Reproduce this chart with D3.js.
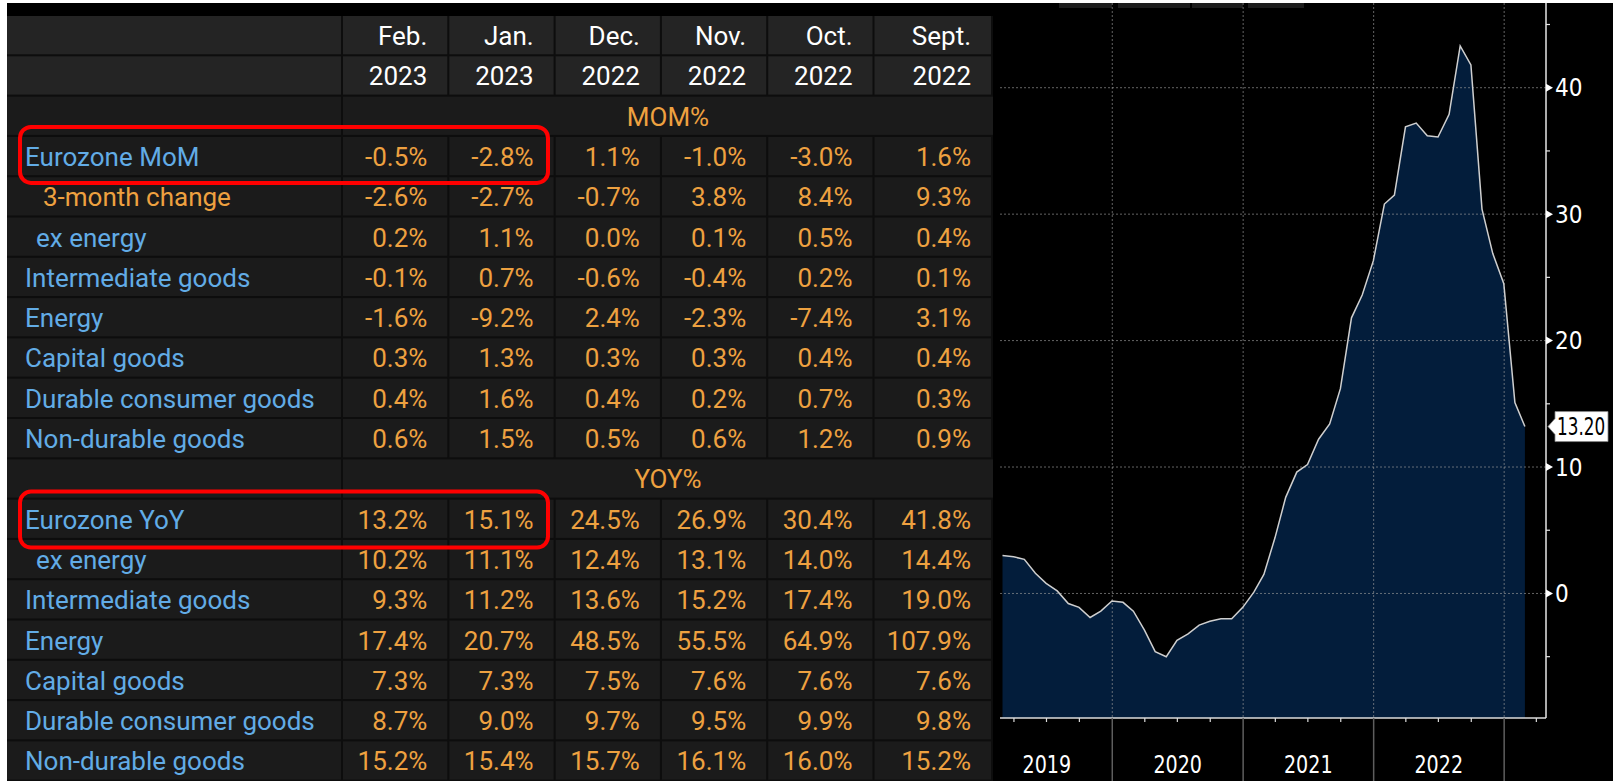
<!DOCTYPE html>
<html lang="en">
<head>
<meta charset="UTF-8">
<title>Eurozone PPI</title>
<script src="https://cdn.jsdelivr.net/npm/d3@7"></script>
<style>
    body { margin: 0; background: #fff; }
    svg { display: block; }
    .tbl text { font-family: Roboto, "Noto Sans", sans-serif; font-size: 26px; }
    .chart text { font-family: "Liberation Sans Narrow", "DejaVu Sans Condensed", sans-serif; font-size: 24px; fill: #fff; }
</style>
</head>
<body>
<div id="container"></div>
<script>
// table columns
const months = ["Feb.", "Jan.", "Dec.", "Nov.", "Oct.", "Sept."];
const years = ["2023", "2023", "2022", "2022", "2022", "2022"];

// month-on-month block
const momLabels = ["Eurozone MoM", "3-month change", "ex energy", "Intermediate goods",
    "Energy", "Capital goods", "Durable consumer goods", "Non-durable goods"];
const momValues = [
    [-0.5, -2.8, 1.1, -1.0, -3.0, 1.6],
    [-2.6, -2.7, -0.7, 3.8, 8.4, 9.3],
    [0.2, 1.1, 0.0, 0.1, 0.5, 0.4],
    [-0.1, 0.7, -0.6, -0.4, 0.2, 0.1],
    [-1.6, -9.2, 2.4, -2.3, -7.4, 3.1],
    [0.3, 1.3, 0.3, 0.3, 0.4, 0.4],
    [0.4, 1.6, 0.4, 0.2, 0.7, 0.3],
    [0.6, 1.5, 0.5, 0.6, 1.2, 0.9]
];

// year-on-year block
const yoyLabels = ["Eurozone YoY", "ex energy", "Intermediate goods", "Energy",
    "Capital goods", "Durable consumer goods", "Non-durable goods"];
const yoyValues = [
    [13.2, 15.1, 24.5, 26.9, 30.4, 41.8],
    [10.2, 11.1, 12.4, 13.1, 14.0, 14.4],
    [9.3, 11.2, 13.6, 15.2, 17.4, 19.0],
    [17.4, 20.7, 48.5, 55.5, 64.9, 107.9],
    [7.3, 7.3, 7.5, 7.6, 7.6, 7.6],
    [8.7, 9.0, 9.7, 9.5, 9.9, 9.8],
    [15.2, 15.4, 15.7, 16.1, 16.0, 15.2]
];

// chart: Eurozone PPI YoY %, month ends Feb 2019 .. Feb 2023
const firstMonth = new Date(2019, 1, 1);
const ppiYoY = [
    3.0, 2.9, 2.7, 1.6, 0.8, 0.2, -0.8, -1.1, -1.9, -1.4, -0.6,
    -0.7, -1.4, -2.9, -4.6, -5.0, -3.7, -3.2, -2.5, -2.2, -2.0, -2.0, -1.1,
    0.1, 1.5, 4.4, 7.6, 9.6, 10.2, 12.2, 13.4, 16.2, 21.8, 23.6, 26.3,
    30.8, 31.5, 36.9, 37.2, 36.2, 36.1, 37.9, 43.3, 41.8, 30.4, 26.9, 24.5,
    15.1, 13.2
];
const yMajor = [0, 10, 20, 30, 40];
const yMinor = [-5, 5, 15, 25, 35, 45];
const yearLabels = [2019, 2020, 2021, 2022];

const W = 1613, H = 781;
const blue = "#62ace6", orange = "#eea140";

const svg = d3.select("#container").append("svg")
    .attr("width", W).attr("height", H);

// ---------- table ----------
const tbl = svg.append("g").attr("class", "tbl");
const tableLeft = 7, tableRight = 993, labelEnd = 343;

tbl.append("rect").attr("x", tableLeft).attr("y", 3)
    .attr("width", tableRight - tableLeft).attr("height", H - 3).attr("fill", "#000");
tbl.append("rect").attr("x", tableLeft).attr("y", 16)
    .attr("width", tableRight - tableLeft).attr("height", H - 16).attr("fill", "#0d0d0d");

const rows = [
    {type: "head", cells: months},
    {type: "head", cells: years},
    {type: "section", text: "MOM%"},
    ...momLabels.map((l, i) => ({type: "data", label: l, values: momValues[i]})),
    {type: "section", text: "YOY%"},
    ...yoyLabels.map((l, i) => ({type: "data", label: l, values: yoyValues[i]}))
];

const rowY = d3.scaleBand().domain(d3.range(rows.length)).range([16, 16 + rows.length * 40.3]);
const colX = d3.scaleBand().domain(d3.range(months.length)).range([labelEnd, labelEnd + months.length * 106.3]);
const colRight = i => i === months.length - 1 ? tableRight : colX(i) + colX.bandwidth();

const labelStyle = {
    "3-month change": {x: 43, color: orange},
    "ex energy": {x: 36, color: blue}
};

const rowG = tbl.selectAll("g.row").data(rows).enter().append("g")
    .attr("class", "row")
    .attr("transform", (d, i) => `translate(0,${rowY(i)})`);

rowG.each(function(d) {
    const g = d3.select(this);
    const h = rowY.bandwidth() - 2;
    const bg = d.type === "head" ? "#242424" : "#1b1b1b";
    g.append("rect").attr("x", tableLeft).attr("width", labelEnd - 2 - tableLeft)
        .attr("height", h).attr("fill", bg);
    if (d.type === "section") {
        g.append("rect").attr("x", labelEnd).attr("width", tableRight - labelEnd)
            .attr("height", h).attr("fill", bg);
        g.append("text").attr("x", (labelEnd + tableRight) / 2).attr("y", 29)
            .attr("text-anchor", "middle").attr("fill", orange).text(d.text);
        return;
    }
    g.selectAll("rect.cell").data(months).enter().append("rect")
        .attr("class", "cell")
        .attr("x", (m, i) => colX(i))
        .attr("width", (m, i) => colRight(i) - colX(i) - 2)
        .attr("height", h).attr("fill", bg);
    if (d.type === "head") {
        g.selectAll("text.v").data(d.cells).enter().append("text")
            .attr("class", "v")
            .attr("x", (c, i) => colRight(i) - 22).attr("y", 29)
            .attr("text-anchor", "end").attr("fill", "#fff").text(c => c);
    } else {
        const st = labelStyle[d.label] || {x: 25, color: blue};
        g.append("text").attr("x", st.x).attr("y", 29)
            .attr("fill", st.color).text(d.label);
        g.selectAll("text.v").data(d.values).enter().append("text")
            .attr("class", "v")
            .attr("x", (c, i) => colRight(i) - 22).attr("y", 29)
            .attr("text-anchor", "end").attr("fill", orange)
            .text(v => v.toFixed(1) + "%");
    }
});

// red highlight boxes
const boxRows = [momLabels.indexOf("Eurozone MoM") + 3, yoyLabels.indexOf("Eurozone YoY") + 12];
tbl.selectAll("rect.hl").data(boxRows).enter().append("rect")
    .attr("class", "hl")
    .attr("x", 20).attr("width", 528)
    .attr("y", (r, i) => rowY(r) - (i === 0 ? 10 : 8))
    .attr("height", 56)
    .attr("rx", 11)
    .attr("fill", "none").attr("stroke", "#ff0000").attr("stroke-width", 4);

// ---------- chart ----------
const ch = svg.append("g").attr("class", "chart");
ch.append("rect").attr("x", tableRight).attr("y", 3)
    .attr("width", W - tableRight).attr("height", H - 3).attr("fill", "#000");

// faint legend remnants at the top
ch.selectAll("rect.leg").data([[1059, 1112], [1118, 1190], [1192, 1243], [1248, 1304]])
    .enter().append("rect").attr("class", "leg")
    .attr("x", d => d[0]).attr("width", d => d[1] - d[0])
    .attr("y", 3).attr("height", 5).attr("fill", "#1c1c1c");

const x = d3.scaleTime()
    .domain([new Date(2019, 1, 21), new Date(2023, 3, 28)])
    .range([1000, 1546]);
const y = d3.scaleLinear().domain([-9.85, 46.7]).range([718, 3]);

const series = ppiYoY.map((v, i) => ({
    date: d3.timeDay.offset(d3.timeMonth.offset(firstMonth, i + 1), -1),
    value: v
}));

ch.append("path").datum(series)
    .attr("d", d3.area().x(d => x(d.date)).y0(y(-9.85)).y1(d => y(d.value)))
    .attr("fill", "#031d3b");

const yearStarts = d3.timeYear.range(x.domain()[0], x.domain()[1]);

ch.selectAll("line.hg").data(yMajor).enter().append("line")
    .attr("class", "hg")
    .attr("x1", x.range()[0]).attr("x2", x.range()[1])
    .attr("y1", d => y(d)).attr("y2", d => y(d))
    .attr("stroke", "#9a9a9a").attr("stroke-opacity", 0.65)
    .attr("stroke-dasharray", "2,2");
ch.selectAll("line.vg").data(yearStarts).enter().append("line")
    .attr("class", "vg")
    .attr("x1", d => x(d)).attr("x2", d => x(d))
    .attr("y1", y.range()[1]).attr("y2", y.range()[0])
    .attr("stroke", "#9a9a9a").attr("stroke-opacity", 0.65)
    .attr("stroke-dasharray", "2,2");

ch.append("path").datum(series)
    .attr("d", d3.line().x(d => x(d.date)).y(d => y(d.value)))
    .attr("fill", "none").attr("stroke", "#cfcfcf").attr("stroke-width", 1.5);

// x axis
ch.append("line").attr("x1", x.range()[0]).attr("x2", x.range()[1])
    .attr("y1", y.range()[0]).attr("y2", y.range()[0])
    .attr("stroke", "#dcdcdc").attr("stroke-width", 1.5);
const quarters = d3.timeMonth.every(3).range(x.domain()[0], x.domain()[1])
    .filter(d => d.getMonth() !== 0);
ch.selectAll("line.qt").data(quarters).enter().append("line")
    .attr("class", "qt")
    .attr("x1", d => x(d)).attr("x2", d => x(d))
    .attr("y1", y.range()[0]).attr("y2", y.range()[0] + 4)
    .attr("stroke", "#dcdcdc").attr("stroke-width", 1.2);
ch.selectAll("line.ysep").data(yearStarts).enter().append("line")
    .attr("class", "ysep")
    .attr("x1", d => x(d)).attr("x2", d => x(d))
    .attr("y1", y.range()[0]).attr("y2", H)
    .attr("stroke", "#5e5e5e").attr("stroke-width", 1.5);
ch.selectAll("text.yr").data(yearLabels).enter().append("text")
    .attr("class", "yr")
    .attr("transform", d => `translate(${x(new Date(d, 6, 2))},773) scale(0.85,1)`)
    .attr("text-anchor", "middle")
    .style("font-size", "25px")
    .text(d => d);

// y axis (right)
const axX = x.range()[1];
ch.append("line").attr("x1", axX).attr("x2", axX)
    .attr("y1", y.range()[1]).attr("y2", y.range()[0])
    .attr("stroke", "#e6e6e6").attr("stroke-width", 1.5);
ch.selectAll("line.mn").data(yMinor).enter().append("line")
    .attr("class", "mn")
    .attr("x1", axX).attr("x2", axX + 4)
    .attr("y1", d => y(d)).attr("y2", d => y(d))
    .attr("stroke", "#e6e6e6").attr("stroke-width", 1.2);
ch.selectAll("path.mj").data(yMajor).enter().append("path")
    .attr("class", "mj")
    .attr("d", d => `M${axX},${y(d) - 4}L${axX + 7},${y(d)}L${axX},${y(d) + 4}Z`)
    .attr("fill", "#fff");
ch.selectAll("text.yl").data(yMajor).enter().append("text")
    .attr("class", "yl")
    .attr("x", axX + 9).attr("y", d => y(d)).attr("dy", "0.36em")
    .text(d => d);

// last value tag
const last = series[series.length - 1];
const ly = y(last.value);
ch.append("path")
    .attr("d", `M${axX + 2},${ly}L${axX + 9},${ly - 8}L${axX + 9},${ly - 15}L${W - 5},${ly - 15}` +
        `L${W - 5},${ly + 15}L${axX + 9},${ly + 15}L${axX + 9},${ly + 8}Z`)
    .attr("fill", "#fff").attr("stroke", "#888").attr("stroke-width", 0.8);
ch.append("text")
    .attr("transform", `translate(${axX + 11},${ly}) scale(0.78,1)`)
    .attr("dy", "0.36em")
    .style("fill", "#000").style("font-size", "24px")
    .text(last.value.toFixed(2));
</script>
</body>
</html>
